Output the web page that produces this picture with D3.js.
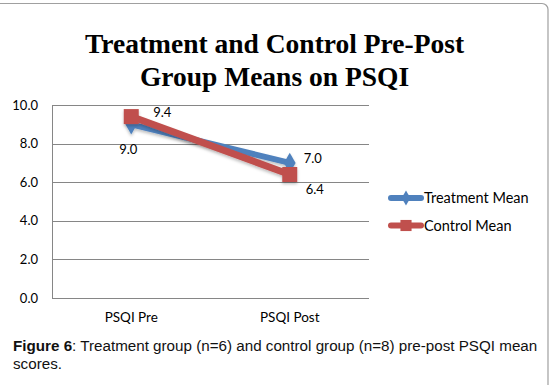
<!DOCTYPE html>
<html>
<head>
<meta charset="utf-8">
<script src="https://cdn.jsdelivr.net/npm/d3@7"></script>
<style>
  body { margin: 0; background: #fff; }
  svg { display: block; }
  .tick text { font-family: Lato, "Open Sans", sans-serif; font-size: 13px; fill: #000; }
  .x.axis .tick text { font-size: 13.5px; }
</style>
</head>
<body>
<script>
// Data
var categories = ["PSQI Pre", "PSQI Post"];
var treatmentMean = [9.0, 7.0];
var controlMean = [9.4, 6.4];
var yTicks = [0, 2, 4, 6, 8, 10];
var seriesNames = ["Treatment Mean", "Control Mean"];

var blue = "#4F81BD",
  red = "#C0504D";

var svg = d3.select("body")
  .append("svg")
  .attr("width", 552)
  .attr("height", 385);

// outer frame of the chart object (runs off left and bottom)
svg.append("rect")
  .attr("x", -10)
  .attr("y", 3.5)
  .attr("width", 558)
  .attr("height", 420)
  .attr("rx", 6)
  .style("fill", "none")
  .style("stroke", "#a0a0a0")
  .style("stroke-width", 1.2);

// title
var title = svg.append("text")
  .attr("text-anchor", "middle")
  .style("font-family", "'Liberation Serif', 'Times New Roman', serif")
  .style("font-weight", "bold")
  .style("font-size", "27.5px");
title.append("tspan").attr("x", 274.5).attr("y", 52.5).text("Treatment and Control Pre-Post");
title.append("tspan").attr("x", 274.5).attr("y", 85.5).text("Group Means on PSQI");

// plot area
var margin = { left: 52, top: 105 },
  width = 317,
  height = 193;

var g = svg.append("g")
  .attr("transform", "translate(" + margin.left + "," + margin.top + ")");

var x = d3.scaleBand().domain(categories).range([0, width]);
var y = d3.scaleLinear().domain([0, 10]).range([height, 0]);

// gridlines
g.selectAll("line.grid")
  .data(yTicks)
  .enter().append("line")
  .attr("class", "grid")
  .attr("x1", 0)
  .attr("x2", width)
  .attr("y1", function(d) { return Math.round(y(d)) + 0.5; })
  .attr("y2", function(d) { return Math.round(y(d)) + 0.5; })
  .style("stroke", "#868686")
  .style("stroke-width", 1);

// y axis
var yAxis = d3.axisLeft(y)
  .tickValues(yTicks)
  .tickSize(0)
  .tickPadding(14)
  .tickFormat(d3.format(".1f"));
g.append("g")
  .attr("class", "y axis")
  .call(yAxis)
  .call(function(s) { s.select(".domain").remove(); })
  .selectAll("text").attr("dy", "0.32em");

g.append("line")
  .attr("x1", 0.5).attr("x2", 0.5)
  .attr("y1", 0).attr("y2", height + 0.5)
  .style("stroke", "#868686");

// x axis labels
var xAxis = d3.axisBottom(x).tickSize(0).tickPadding(14.5);
g.append("g")
  .attr("class", "x axis")
  .attr("transform", "translate(0," + height + ")")
  .call(xAxis)
  .call(function(s) { s.select(".domain").remove(); });

// lines
function cx(i) { return x(categories[i]) + x.bandwidth() / 2; }

var line = d3.line()
  .x(function(d, i) { return cx(i); })
  .y(function(d) { return y(d); });

var series = [
  { name: seriesNames[0], values: treatmentMean, color: blue, w: 6, sym: d3.symbolDiamond, size: 120 },
  { name: seriesNames[1], values: controlMean, color: red, w: 7, sym: d3.symbolSquare, size: 225 }
];

// soft shadow
var defs = svg.append("defs");
var f = defs.append("filter").attr("id", "shadow").attr("x", "-20%").attr("y", "-20%").attr("width", "140%").attr("height", "160%");
f.append("feDropShadow").attr("dx", 0).attr("dy", 2).attr("stdDeviation", 1.5).attr("flood-color", "#000").attr("flood-opacity", 0.25);

series.forEach(function(s) {
  var sg = g.append("g").attr("filter", "url(#shadow)");
  sg.append("path")
    .attr("d", line(s.values))
    .style("fill", "none")
    .style("stroke", s.color)
    .style("stroke-width", s.w)
    .style("stroke-linecap", "round");
  sg.selectAll("path.marker")
    .data(s.values)
    .enter().append("path")
    .attr("class", "marker")
    .attr("d", d3.symbol().type(s.sym).size(s.size))
    .attr("transform", function(d, i) {
      return "translate(" + cx(i) + "," + y(d) + ")";
    })
    .style("fill", s.color);
});

// data labels
var labelFont = "Lato, 'Open Sans', sans-serif";
var labels = [
  { v: treatmentMean[0], x: cx(0) - 3, y: y(treatmentMean[0]) + 30, anchor: "middle" },
  { v: controlMean[0], x: cx(0) + 22, y: y(controlMean[0]) + 0, anchor: "start" },
  { v: treatmentMean[1], x: cx(1) + 14, y: y(treatmentMean[1]) + 0, anchor: "start" },
  { v: controlMean[1], x: cx(1) + 16, y: y(controlMean[1]) + 20, anchor: "start" }
];
g.selectAll("text.dlabel")
  .data(labels)
  .enter().append("text")
  .attr("class", "dlabel")
  .attr("x", function(d) { return d.x; })
  .attr("y", function(d) { return d.y; })
  .attr("text-anchor", function(d) { return d.anchor; })
  .style("font-family", labelFont)
  .style("font-size", "13px")
  .text(function(d) { return d3.format(".1f")(d.v); });

// legend
var legend = svg.append("g").attr("transform", "translate(389,198)");
series.forEach(function(s, i) {
  var lg = legend.append("g").attr("transform", "translate(0," + (i * 27.5) + ")");
  lg.append("line")
    .attr("x1", 2).attr("x2", 32)
    .style("stroke", s.color)
    .style("stroke-width", 6)
    .style("stroke-linecap", "round");
  lg.append("path")
    .attr("d", d3.symbol().type(s.sym).size(s.size * 0.55))
    .attr("transform", "translate(17,0)")
    .style("fill", s.color);
  lg.append("text")
    .attr("x", 35)
    .attr("y", 5)
    .style("font-family", labelFont)
    .style("font-size", "14.5px")
    .text(s.name);
});

// caption
var cap = svg.append("text")
  .style("font-family", "'Liberation Sans', Arial, sans-serif")
  .style("font-size", "15.2px")
  .style("fill", "#111");
var l1 = cap.append("tspan").attr("x", 13).attr("y", 351);
l1.append("tspan").style("font-weight", "bold").text("Figure 6");
l1.append("tspan").text(": Treatment group (n=6) and control group (n=8) pre-post PSQI mean");
cap.append("tspan").attr("x", 13).attr("y", 369).text("scores.");
</script>
</body>
</html>
